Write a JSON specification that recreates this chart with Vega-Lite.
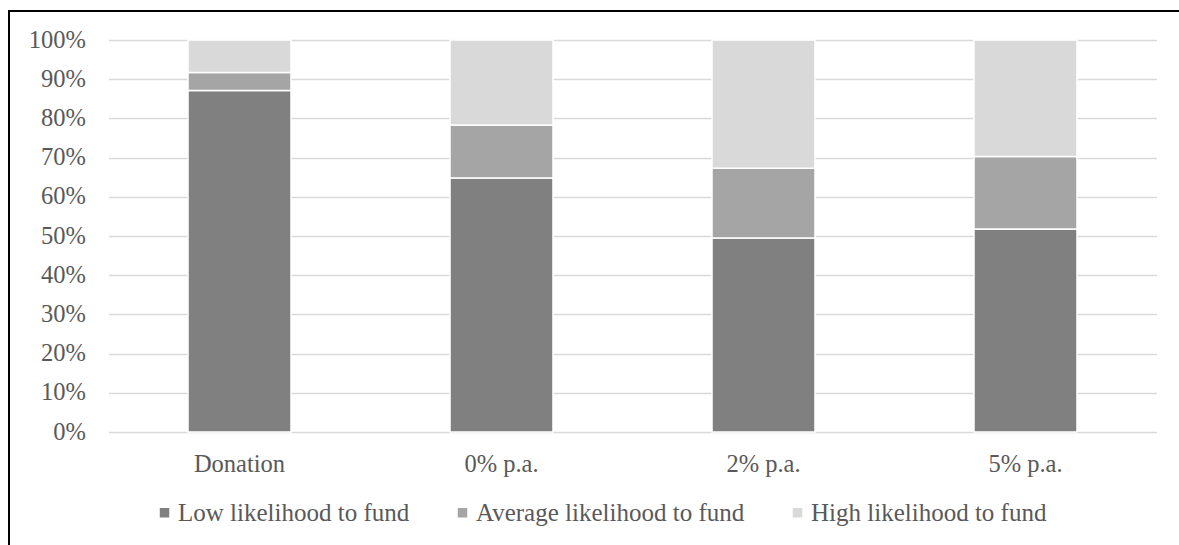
{
  "$schema": "https://vega.github.io/schema/vega-lite/v6.json",
  "width": 1185,
  "height": 545,
  "padding": {"left": 9, "top": 11, "right": 0, "bottom": 0},
  "autosize": {"type": "pad"},
  "background": "white",
  "config": {
    "view": {"stroke": "#000000", "strokeWidth": 2},
    "font": "Liberation Serif"
  },
  "data": {
    "values": [
      {"cat": "Donation", "series": "Low likelihood to fund", "k": 1, "v": 0.871},
      {"cat": "Donation", "series": "Average likelihood to fund", "k": 2, "v": 0.046},
      {"cat": "Donation", "series": "High likelihood to fund", "k": 3, "v": 0.083},
      {"cat": "0% p.a.", "series": "Low likelihood to fund", "k": 1, "v": 0.648},
      {"cat": "0% p.a.", "series": "Average likelihood to fund", "k": 2, "v": 0.135},
      {"cat": "0% p.a.", "series": "High likelihood to fund", "k": 3, "v": 0.217},
      {"cat": "2% p.a.", "series": "Low likelihood to fund", "k": 1, "v": 0.495},
      {"cat": "2% p.a.", "series": "Average likelihood to fund", "k": 2, "v": 0.178},
      {"cat": "2% p.a.", "series": "High likelihood to fund", "k": 3, "v": 0.327},
      {"cat": "5% p.a.", "series": "Low likelihood to fund", "k": 1, "v": 0.518},
      {"cat": "5% p.a.", "series": "Average likelihood to fund", "k": 2, "v": 0.185},
      {"cat": "5% p.a.", "series": "High likelihood to fund", "k": 3, "v": 0.297}
    ]
  },
  "mark": {"type": "bar", "stroke": "#ffffff", "strokeWidth": 1.5},
  "encoding": {
    "x": {
      "field": "cat",
      "type": "nominal",
      "sort": ["Donation", "0% p.a.", "2% p.a.", "5% p.a."],
      "scale": {"range": [99.5, 1147.5], "paddingInner": 0.607, "paddingOuter": 0.3035},
      "axis": {
        "title": null,
        "orient": "bottom",
        "offset": -124,
        "domain": false,
        "ticks": false,
        "grid": false,
        "labelAngle": 0,
        "labelFont": "Liberation Serif",
        "labelFontSize": 24.5,
        "labelColor": "#595959",
        "labelPadding": 20
      }
    },
    "y": {
      "field": "v",
      "type": "quantitative",
      "stack": "zero",
      "scale": {"domain": [0, 1], "range": [421, 29], "nice": false, "zero": true},
      "axis": {
        "title": null,
        "orient": "left",
        "offset": -99.5,
        "values": [0, 0.1, 0.2, 0.3, 0.4, 0.5, 0.6, 0.7, 0.8, 0.9, 1],
        "format": ".0%",
        "domain": false,
        "ticks": false,
        "grid": true,
        "gridColor": "#d9d9d9",
        "gridWidth": 1.5,
        "labelFont": "Liberation Serif",
        "labelFontSize": 24.5,
        "labelColor": "#595959",
        "labelPadding": 23
      }
    },
    "color": {
      "field": "series",
      "type": "nominal",
      "scale": {
        "domain": ["Low likelihood to fund", "Average likelihood to fund", "High likelihood to fund"],
        "range": ["#808080", "#a5a5a5", "#d9d9d9"]
      },
      "legend": {
        "title": null,
        "orient": "none",
        "direction": "horizontal",
        "legendX": 143,
        "legendY": 489,
        "padding": 0,
        "symbolType": "square",
        "symbolSize": 90,
        "symbolStrokeWidth": 0,
        "labelFont": "Liberation Serif",
        "labelFontSize": 25,
        "labelLimit": 0,
        "labelColor": "#595959",
        "labelOffset": 1,
        "columnPadding": 40
      }
    },
    "order": {"field": "k", "type": "quantitative", "sort": "ascending"}
  }
}
